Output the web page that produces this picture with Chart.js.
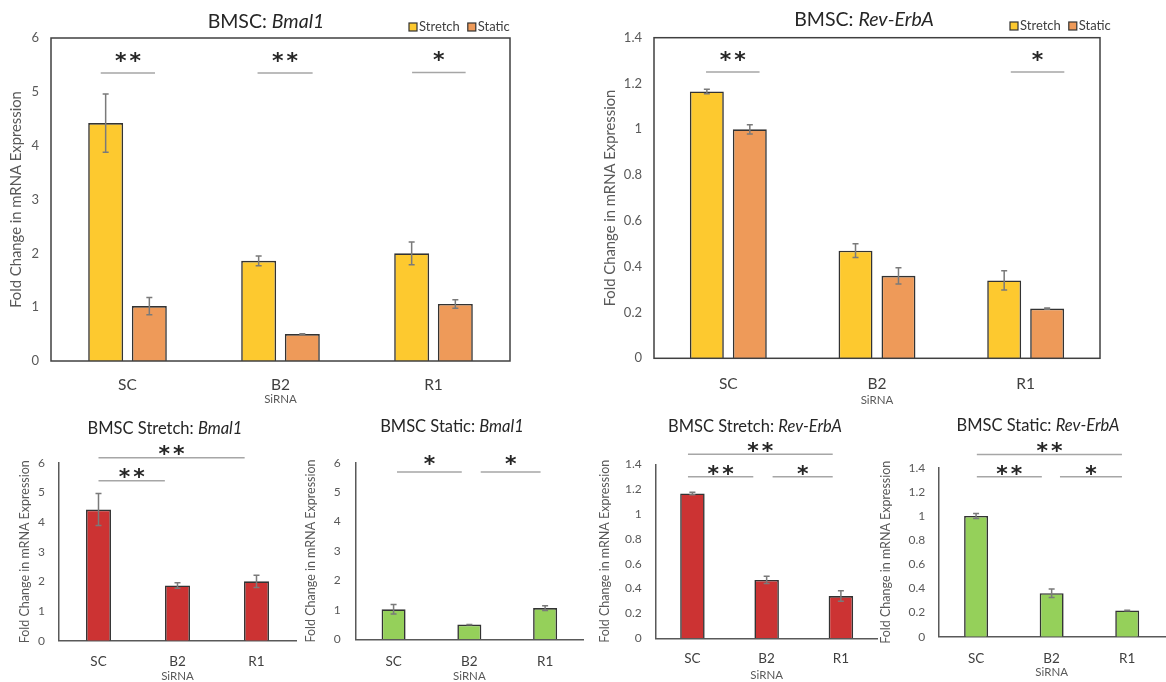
<!DOCTYPE html>
<html>
<head>
<meta charset="utf-8">
<script src="https://cdn.jsdelivr.net/npm/chart.js@4.4.1/dist/chart.umd.min.js"></script>
<style>
  html, body { margin: 0; padding: 0; background: #fff; }
  body { width: 1166px; height: 682px; position: relative; overflow: hidden; }
  canvas { position: absolute; }
</style>
</head>
<body>
<canvas id="bmalPair" width="585" height="410" style="left:0;top:0"></canvas>
<canvas id="revPair" width="581" height="410" style="left:585px;top:0"></canvas>
<canvas id="bmalStretchChart" width="298" height="272" style="left:0;top:410px"></canvas>
<canvas id="bmalStaticChart" width="292" height="272" style="left:298px;top:410px"></canvas>
<canvas id="revStretchChart" width="288" height="272" style="left:590px;top:410px"></canvas>
<canvas id="revStaticChart" width="288" height="272" style="left:878px;top:410px"></canvas>
<script>
// ---- data ----
const categories = ['SC', 'B2', 'R1'];

const bmalStretch    = [4.42, 1.86, 2.00];
const bmalStretchErr = [0.54, 0.09, 0.21];
const bmalStatic     = [1.02, 0.50, 1.06];
const bmalStaticErr  = [0.16, 0.005, 0.08];

const revStretch    = [1.165, 0.47, 0.34];
const revStretchErr = [0.01, 0.03, 0.042];
const revStatic     = [1.00, 0.36, 0.217];
const revStaticErr  = [0.02, 0.035, 0.003];

const bmalTicks = [0, 1, 2, 3, 4, 5, 6];
const revTicks  = [0, 0.2, 0.4, 0.6, 0.8, 1, 1.2, 1.4];

// significance brackets: category span (index units) and height (data units)
const bmalPairSig = [
  { from: -0.175, to: 0.18, y: 5.35, text: '**' },
  { from: 0.85, to: 1.21, y: 5.35, text: '**' },
  { from: 1.86, to: 2.21, y: 5.36, text: '*' }
];
const revPairSig = [
  { from: -0.15, to: 0.21, y: 1.25, text: '**' },
  { from: 1.90, to: 2.26, y: 1.25, text: '*' }
];
const bmalStretchSig = [
  { from: 0.0, to: 0.84, y: 5.39, text: '**' },
  { from: 0.0, to: 1.85, y: 6.17, text: '**' }
];
const bmalStaticSig = [
  { from: 0.045, to: 0.9, y: 5.68, text: '*' },
  { from: 1.15, to: 1.94, y: 5.68, text: '*' }
];
const revStretchSig = [
  { from: -0.06, to: 1.89, y: 1.48, text: '**' },
  { from: -0.06, to: 0.82, y: 1.30, text: '**' },
  { from: 1.08, to: 1.89, y: 1.30, text: '*' }
];
const revStaticSig = [
  { from: 0.01, to: 1.93, y: 1.51, text: '**' },
  { from: 0.01, to: 0.87, y: 1.326, text: '**' },
  { from: 1.11, to: 1.93, y: 1.326, text: '*' }
];

// ---- styling ----
const FONT = 'Lato, "DejaVu Sans", sans-serif';
const STAR_FONT = 'bold 22px "DejaVu Sans", sans-serif';
const STAR_SPACING = 3;
const YELLOW = '#FDC92F';
const ORANGE = '#EE9A59';
const RED = '#CC3333';
const GREEN = '#95D05A';
const BAR_EDGE = '#333333';

function makeDecor(L) {
  return {
    id: 'decor',
    afterDatasetsDraw(chart) {
      const ctx = chart.ctx;
      const ys = chart.scales.y;
      ctx.save();
      ctx.strokeStyle = '#7a7a7a';
      ctx.lineWidth = 1.5;
      chart.data.datasets.forEach((ds, i) => {
        const meta = chart.getDatasetMeta(i);
        meta.data.forEach((bar, j) => {
          const v = ds.data[j], e = ds.errors[j];
          const x = bar.x;
          const t = ys.getPixelForValue(v + e);
          const b = ys.getPixelForValue(v - e);
          ctx.beginPath();
          ctx.moveTo(x, t); ctx.lineTo(x, b);
          ctx.moveTo(x - 3, t); ctx.lineTo(x + 3, t);
          ctx.moveTo(x - 3, b); ctx.lineTo(x + 3, b);
          ctx.stroke();
        });
      });
      ctx.restore();
    },
    afterDraw(chart) {
      const ctx = chart.ctx;
      const a = chart.chartArea;
      const xs = chart.scales.x, ys = chart.scales.y;
      ctx.save();
      // plot frame
      if (L.frame) {
        ctx.strokeStyle = '#404040';
        ctx.lineWidth = 1.5;
        ctx.strokeRect(a.left, a.top, a.right - a.left, a.bottom - a.top);
      }
      // significance brackets
      L.sig.forEach(s => {
        const x1 = xs.getPixelForValue(s.from);
        const x2 = xs.getPixelForValue(s.to);
        const y = ys.getPixelForValue(s.y);
        ctx.strokeStyle = '#a6a6a6';
        ctx.lineWidth = 1.5;
        ctx.beginPath();
        ctx.moveTo(x1, y); ctx.lineTo(x2, y);
        ctx.stroke();
        ctx.font = STAR_FONT;
        ctx.letterSpacing = STAR_SPACING + 'px';
        ctx.fillStyle = '#262626';
        ctx.textAlign = 'center';
        ctx.textBaseline = 'alphabetic';
        const m = ctx.measureText(s.text);
        const yc = y - L.starGap;
        const base = yc + (m.actualBoundingBoxAscent - m.actualBoundingBoxDescent) / 2;
        ctx.fillText(s.text, (x1 + x2) / 2 + STAR_SPACING / 2, base);
        ctx.letterSpacing = '0px';
      });
      // title with italic gene name
      const tf = L.titleSize + 'px ' + FONT;
      const tfi = 'italic ' + tf;
      ctx.textBaseline = 'middle';
      ctx.textAlign = 'left';
      ctx.fillStyle = '#262626';
      let total = 0;
      L.title.forEach(seg => { ctx.font = seg.i ? tfi : tf; total += ctx.measureText(seg.t).width; });
      let tx = L.titleX - total / 2;
      L.title.forEach(seg => {
        ctx.font = seg.i ? tfi : tf;
        ctx.fillText(seg.t, tx, L.titleY);
        tx += ctx.measureText(seg.t).width;
      });
      // legend
      if (L.legend) {
        let lx = L.legend.x;
        const ly = L.legend.y;
        ctx.font = '13px ' + FONT;
        chart.data.datasets.forEach(ds => {
          ctx.fillStyle = ds.backgroundColor;
          ctx.fillRect(lx, ly - 4, 8, 8);
          ctx.strokeStyle = BAR_EDGE;
          ctx.lineWidth = 1.2;
          ctx.strokeRect(lx, ly - 4, 8, 8);
          ctx.fillStyle = '#404040';
          ctx.fillText(ds.label, lx + 10, ly);
          lx += 10 + ctx.measureText(ds.label).width + 8;
        });
      }
      ctx.restore();
    }
  };
}

function buildChart(id, L) {
  new Chart(document.getElementById(id), {
    type: 'bar',
    data: {
      labels: categories,
      datasets: L.series.map(s => ({
        label: s.label,
        data: s.data,
        errors: s.err,
        backgroundColor: s.color,
        borderColor: BAR_EDGE,
        borderWidth: 1.6,
        categoryPercentage: L.catPct,
        barPercentage: L.barPct
      }))
    },
    options: {
      responsive: false,
      animation: false,
      devicePixelRatio: 1,
      layout: { padding: { left: 0, right: L.padRight, top: L.padTop, bottom: 0 } },
      plugins: { legend: { display: false }, title: { display: false }, tooltip: { enabled: false } },
      scales: {
        x: {
          grid: { display: false, drawTicks: false },
          border: { display: !L.frame, color: '#595959', width: 1.5 },
          ticks: { color: '#404040', font: { family: FONT, size: L.xFont }, padding: L.xPad },
          title: { display: true, text: 'SiRNA', color: '#595959',
                   font: { family: FONT, size: 11.5, lineHeight: 1 }, padding: { top: 0, bottom: L.xTitlePad } },
          afterFit(s) { s.height = L.xH; }
        },
        y: {
          min: L.ticks[0],
          max: L.ticks[L.ticks.length - 1],
          afterBuildTicks(s) { s.ticks = L.ticks.map(v => ({ value: v })); },
          grid: { display: false, drawTicks: false },
          border: { display: !L.frame, color: '#595959', width: 1.5 },
          ticks: { color: '#595959', font: { family: FONT, size: L.yFont }, padding: L.yPad,
                   callback: v => String(Number(v.toFixed(2))) },
          title: { display: true, text: 'Fold Change in mRNA Expression', color: '#595959',
                   font: { family: FONT, size: L.yTitleFont, lineHeight: 1.2 }, padding: { top: L.yTitlePad } },
          afterFit(s) { s.width = L.yW; }
        }
      }
    },
    plugins: [makeDecor(L)]
  });
}

const BMAL = [{ t: 'Bmal1', i: true }];
const REV = [{ t: 'Rev-ErbA', i: true }];

buildChart('bmalPair', {
  series: [
    { label: 'Stretch', data: bmalStretch, err: bmalStretchErr, color: YELLOW },
    { label: 'Static', data: bmalStatic, err: bmalStaticErr, color: ORANGE }
  ],
  ticks: bmalTicks, sig: bmalPairSig, frame: true, starGap: 16,
  catPct: 0.571, barPct: 0.80,
  padRight: 75, padTop: 38, yW: 51, xH: 49,
  xFont: 15.5, xPad: 15, xTitlePad: 4.5,
  yFont: 13, yPad: 12, yTitleFont: 14.8, yTitlePad: 7,
  title: [{ t: 'BMSC: ', i: false }].concat(BMAL), titleSize: 19.5, titleX: 266, titleY: 21.5,
  legend: { x: 409, y: 27 }
});

buildChart('revPair', {
  series: [
    { label: 'Stretch', data: revStretch, err: revStretchErr, color: YELLOW },
    { label: 'Static', data: revStatic, err: revStaticErr, color: ORANGE }
  ],
  ticks: revTicks, sig: revPairSig, frame: true, starGap: 16,
  catPct: 0.578, barPct: 0.79,
  padRight: 66, padTop: 37.7, yW: 69, xH: 51.7,
  xFont: 15.5, xPad: 16, xTitlePad: 3.5,
  yFont: 13, yPad: 12, yTitleFont: 14.8, yTitlePad: 16,
  title: [{ t: 'BMSC: ', i: false }].concat(REV), titleSize: 19.5, titleX: 279, titleY: 20,
  legend: { x: 425, y: 26 }
});

buildChart('bmalStretchChart', {
  series: [{ label: 'Stretch', data: bmalStretch, err: bmalStretchErr, color: RED }],
  ticks: bmalTicks, sig: bmalStretchSig, frame: false, starGap: 8,
  catPct: 0.316, barPct: 1,
  padRight: 2, padTop: 52.7, yW: 59, xH: 41.3,
  xFont: 13.5, xPad: 13, xTitlePad: 0,
  yFont: 12, yPad: 14, yTitleFont: 12.5, yTitlePad: 17,
  title: [{ t: 'BMSC Stretch: ', i: false }].concat(BMAL), titleSize: 16.5, titleX: 165, titleY: 19
});

buildChart('bmalStaticChart', {
  series: [{ label: 'Static', data: bmalStatic, err: bmalStaticErr, color: GREEN }],
  ticks: bmalTicks, sig: bmalStaticSig, frame: false, starGap: 12,
  catPct: 0.317, barPct: 1,
  padRight: 7, padTop: 52.7, yW: 57.7, xH: 42.7,
  xFont: 13.5, xPad: 14.5, xTitlePad: 0,
  yFont: 12, yPad: 15, yTitleFont: 12.5, yTitlePad: 5,
  title: [{ t: 'BMSC Static: ', i: false }].concat(BMAL), titleSize: 16.5, titleX: 154, titleY: 17
});

buildChart('revStretchChart', {
  series: [{ label: 'Stretch', data: revStretch, err: revStretchErr, color: RED }],
  ticks: revTicks, sig: revStretchSig, frame: false, starGap: 7,
  catPct: 0.33, barPct: 1,
  padRight: 0, padTop: 54.3, yW: 65.3, xH: 43.7,
  xFont: 13.5, xPad: 12, xTitlePad: 1,
  yFont: 12, yPad: 13.6, yTitleFont: 12.5, yTitlePad: 7,
  title: [{ t: 'BMSC Stretch: ', i: false }].concat(REV), titleSize: 16.5, titleX: 165, titleY: 17
});

buildChart('revStaticChart', {
  series: [{ label: 'Static', data: revStatic, err: revStaticErr, color: GREEN }],
  ticks: revTicks, sig: revStaticSig, frame: false, starGap: 7,
  catPct: 0.317, barPct: 1,
  padRight: 1, padTop: 57.7, yW: 60.3, xH: 45.3,
  xFont: 13.5, xPad: 13.5, xTitlePad: 3.5,
  yFont: 12, yPad: 13, yTitleFont: 12.5, yTitlePad: 0.5,
  title: [{ t: 'BMSC Static: ', i: false }].concat(REV), titleSize: 16.5, titleX: 160, titleY: 15.7
});
</script>
</body>
</html>
